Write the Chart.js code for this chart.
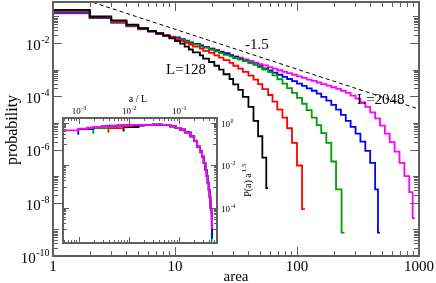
<!DOCTYPE html>
<html>
<head>
<meta charset="utf-8">
<title>Area distribution</title>
<script src="https://cdn.jsdelivr.net/npm/chart.js"></script>
<style>
  body { margin: 0; background: #fff; }
  #wrap { position: relative; width: 436px; height: 283px; }
  #main { position: absolute; left: 0; top: 0; }
  #inset { position: absolute; left: 55px; top: 90px; }
</style>
</head>
<body>
<div id="wrap">
  <canvas id="main" width="436" height="283"></canvas>
  <canvas id="inset" width="215" height="160"></canvas>
</div>
<script>
// system sizes and colours
const sizes = [128, 256, 512, 1024, 2048];
const colors = ['#000000', '#ff0000', '#00a000', '#0000ff', '#ff00ff'];

// left edges of the histogram bins (area)
const areaBins = [1, 2, 3, 4, 5, 6, 7, 8, 9, 10, 11, 12, 13, 14, 16, 17, 19, 21, 23, 25,
  28, 30, 33, 36, 40, 44, 48, 52, 58, 63, 69, 76, 83, 91, 100, 110, 120, 132, 145, 158,
  174, 191, 209, 229, 251, 275, 302, 331, 363, 398, 437, 479, 525, 575, 631, 692, 759, 832];

// probability per bin, one list per L
const probL128 = [0.178, 0.100, 0.0708, 0.0490, 0.0363, 0.0282, 0.0229, 0.0186, 0.0151,
  0.0120, 9.55e-3, 7.41e-3, 5.75e-3, 4.47e-3, 3.47e-3, 2.63e-3, 1.95e-3, 1.41e-3, 1.0e-3,
  6.76e-4, 4.47e-4, 2.82e-4, 1.74e-4, 9.55e-5, 3.98e-5, 1.20e-5, 3.16e-6, 5.01e-7];
const probL256 = [0.166, 0.0955, 0.0661, 0.0468, 0.0355, 0.0282, 0.0234, 0.0195, 0.0166,
  0.0141, 0.0120, 0.0102, 8.71e-3, 7.41e-3, 6.17e-3, 5.13e-3, 4.27e-3, 3.47e-3, 2.82e-3,
  2.29e-3, 1.82e-3, 1.41e-3, 1.10e-3, 8.32e-4, 6.03e-4, 4.27e-4, 2.88e-4, 1.86e-4, 1.12e-4,
  6.31e-5, 3.16e-5, 1.58e-5, 6.31e-6, 1.78e-6, 2.51e-7];
const probL512 = [0.151, 0.0933, 0.0631, 0.0457, 0.0347, 0.0275, 0.0234, 0.0200, 0.0170,
  0.0151, 0.0132, 0.0115, 0.0100, 8.71e-3, 7.59e-3, 6.61e-3, 5.62e-3, 4.90e-3, 4.17e-3,
  3.63e-3, 3.16e-3, 2.75e-3, 2.40e-3, 2.09e-3, 1.78e-3, 1.51e-3, 1.26e-3, 1.02e-3, 8.13e-4,
  6.17e-4, 4.37e-4, 3.02e-4, 2.04e-4, 1.35e-4, 8.71e-5, 5.25e-5, 3.02e-5, 1.58e-5, 8.32e-6,
  4.17e-6, 1.78e-6, 3.55e-7, 3.16e-8];
const probL1024 = [0.141, 0.0891, 0.0603, 0.0437, 0.0339, 0.0275, 0.0234, 0.0200, 0.0170,
  0.0162, 0.0141, 0.0123, 0.0107, 9.33e-3, 8.13e-3, 7.08e-3, 6.17e-3, 5.37e-3, 4.68e-3,
  4.07e-3, 3.47e-3, 3.02e-3, 2.57e-3, 2.19e-3, 1.86e-3, 1.58e-3, 1.35e-3, 1.12e-3, 9.33e-4,
  7.76e-4, 6.46e-4, 5.37e-4, 4.47e-4, 3.72e-4, 3.02e-4, 2.45e-4, 2.00e-4, 1.62e-4, 1.26e-4,
  9.55e-5, 6.92e-5, 4.79e-5, 3.16e-5, 2.00e-5, 1.20e-5, 7.08e-6, 3.98e-6, 2.00e-6, 8.91e-7,
  3.16e-7, 3.16e-8];
const probL2048 = [0.132, 0.0871, 0.0575, 0.0427, 0.0331, 0.0269, 0.0229, 0.0195, 0.0174,
  0.0158, 0.0138, 0.0120, 0.0107, 9.33e-3, 8.13e-3, 7.08e-3, 6.17e-3, 5.50e-3, 4.79e-3,
  4.17e-3, 3.63e-3, 3.16e-3, 2.82e-3, 2.45e-3, 2.14e-3, 1.86e-3, 1.62e-3, 1.45e-3, 1.26e-3,
  1.10e-3, 9.55e-4, 8.32e-4, 7.41e-4, 6.46e-4, 5.62e-4, 4.90e-4, 4.27e-4, 3.80e-4, 3.31e-4,
  2.88e-4, 2.51e-4, 2.19e-4, 1.91e-4, 1.62e-4, 1.35e-4, 1.07e-4, 8.13e-5, 5.89e-5, 3.98e-5,
  2.51e-5, 1.48e-5, 7.94e-6, 3.98e-6, 1.91e-6, 8.32e-7, 3.16e-7, 1.0e-7, 2.51e-8];
const probs = [probL128, probL256, probL512, probL1024, probL2048];

// last (narrow) bin of every curve
const tailStart = [56, 110, 232, 461, 887];
const tailEnd = [58, 116, 245, 479, 925];
const tailP = [3.55e-8, 5.75e-9, 7.59e-10, 7.59e-10, 2.63e-9];

// slope -1.5 guide line
const guideArea = [1, 1000];
const guideP = [1.05, 3.31e-5];

// inset: P(a) a^1.5 against a/L
const insetHeadX = [
  [7.8e-3, 7.8e-3, 0.0156],
  [3.9e-3, 3.9e-3, 7.8e-3, 0.0117],
  [1.95e-3, 1.95e-3, 3.9e-3, 5.9e-3, 7.8e-3, 0.0117],
  [9.77e-4, 9.77e-4, 1.95e-3, 2.93e-3, 3.9e-3, 5.9e-3, 7.8e-3, 0.0117],
  [4.88e-4, 9.77e-4, 1.46e-3, 1.95e-3, 2.93e-3, 3.9e-3, 5.9e-3, 7.8e-3, 0.0117]
];
const insetHeadY = [
  [0.39, 0.63, 0.74],
  [0.35, 0.56, 0.69, 0.76],
  [0.30, 0.56, 0.66, 0.72, 0.76, 0.79],
  [0.275, 0.50, 0.63, 0.69, 0.72, 0.75, 0.77, 0.79],
  [0.44, 0.52, 0.58, 0.63, 0.68, 0.71, 0.74, 0.77, 0.79]
];
const collapseX = [0.02, 0.03, 0.045, 0.067, 0.085, 0.106, 0.13, 0.168, 0.2, 0.228, 0.26,
  0.287, 0.31, 0.334, 0.355, 0.372, 0.39, 0.407];
const collapseY = [0.776, 0.813, 0.794, 0.676, 0.575, 0.468, 0.355, 0.229, 0.138, 0.0759,
  0.0447, 0.0257, 0.0132, 6.17e-3, 3.16e-3, 1.51e-3, 7.08e-4, 3.39e-4];
const insetTailX = [
  [0.42, 0.428],
  [0.415, 0.422],
  [0.42, 0.435, 0.448, 0.452],
  [0.42, 0.435, 0.448, 0.456, 0.46],
  [0.42, 0.435, 0.445, 0.452, 0.456]
];
const insetTailY = [
  [1.0e-4, 1.0e-4],
  [2.5e-4, 2.5e-4],
  [1.78e-4, 6.3e-5, 2.8e-6, 2.8e-6],
  [1.78e-4, 8.1e-5, 1.5e-5, 3.9e-6, 3.9e-6],
  [1.78e-4, 8.1e-5, 3.2e-5, 1.15e-5, 1.15e-5]
];

const SERIF = '"Liberation Serif", "DejaVu Serif", serif';
const AXIS = '#606060';

function pts(xs, ys) {
  return xs.map((x, i) => ({ x: x, y: ys[i] }));
}

// "10" with a raised exponent
function drawPow(ctx, x, y, exp, fs, align) {
  const es = Math.round(fs * 0.65);
  ctx.font = fs + 'px ' + SERIF;
  const w1 = ctx.measureText('10').width;
  ctx.font = es + 'px ' + SERIF;
  const w2 = ctx.measureText(exp).width;
  let x0 = x;
  if (align === 'right') x0 = x - w1 - w2;
  if (align === 'center') x0 = x - (w1 + w2) / 2;
  const base = y + fs * 0.45;
  ctx.textAlign = 'left';
  ctx.textBaseline = 'alphabetic';
  ctx.font = fs + 'px ' + SERIF;
  ctx.fillText('10', x0, base);
  ctx.font = es + 'px ' + SERIF;
  ctx.fillText(exp, x0 + w1 + 0.5, base - fs * 0.45);
}

function tick(ctx, x1, y1, x2, y2) {
  ctx.beginPath();
  ctx.moveTo(x1, y1);
  ctx.lineTo(x2, y2);
  ctx.stroke();
}

// ticks of a log axis: majors at 10^n, minors at k*10^n for the listed decades
function logTickList(min, max, minorDecade) {
  const out = [];
  for (let n = -12; n <= 4; n++) {
    for (let k = 1; k <= 9; k++) {
      const v = k * Math.pow(10, n);
      if (v < min * 0.999 || v > max * 1.001) continue;
      if (k === 1) out.push({ v: v, major: true });
      else if (minorDecade(n)) out.push({ v: v, major: false });
    }
  }
  return out;
}

const mainAxes = {
  id: 'mainAxes',
  afterDatasetsDraw(chart) {
    const { ctx, chartArea: a, scales } = chart;
    const xs = scales.x, ys = scales.y;
    ctx.save();
    ctx.strokeStyle = AXIS;
    ctx.lineWidth = 1;
    logTickList(1, 1000, () => true).forEach(t => {
      const px = Math.round(xs.getPixelForValue(t.v)) + 0.5;
      const len = t.major ? 9 : 5;
      tick(ctx, px, a.bottom, px, a.bottom - len);
      tick(ctx, px, a.top, px, a.top + len);
    });
    logTickList(1e-10, 1, n => n % 2 === 0).forEach(t => {
      const py = Math.round(ys.getPixelForValue(t.v)) + 0.5;
      if (py < a.top || py > a.bottom + 1) return;
      const n = Math.round(Math.log10(t.v));
      const len = t.major ? (n % 2 === 0 ? 9 : 6) : 5;
      tick(ctx, a.left, py, a.left + len, py);
      tick(ctx, a.right, py, a.right - len, py);
    });
    ctx.lineWidth = 2;
    ctx.strokeRect(a.left, a.top, a.right - a.left, a.bottom - a.top);

    ctx.fillStyle = '#000';
    ctx.font = '15px ' + SERIF;
    ctx.textAlign = 'center';
    ctx.textBaseline = 'middle';
    [1, 10, 100, 1000].forEach(v => {
      ctx.fillText(String(v), xs.getPixelForValue(v), a.bottom + 11);
    });
    [-10, -8, -6, -4, -2].forEach(n => {
      drawPow(ctx, a.left - 4, ys.getPixelForValue(Math.pow(10, n)), String(n), 15, 'right');
    });

    ctx.font = '15px ' + SERIF;
    ctx.textAlign = 'center';
    ctx.textBaseline = 'middle';
    ctx.fillText('area', 236, 277);
    ctx.save();
    ctx.translate(13, 130);
    ctx.rotate(-Math.PI / 2);
    ctx.font = '16px ' + SERIF;
    ctx.fillText('probability', 0, 0);
    ctx.restore();

    ctx.textAlign = 'left';
    ctx.font = '15px ' + SERIF;
    ctx.fillText('-1.5', 245, 45);
    ctx.fillText('L=128', 166, 70);
    ctx.fillText('L=2048', 357, 100);
    ctx.restore();
  }
};

const mainSets = sizes.map((L, s) => {
  const data = pts(areaBins.slice(0, probs[s].length), probs[s]);
  data.push({ x: tailStart[s], y: tailP[s] }, { x: tailEnd[s], y: tailP[s] });
  return {
    label: 'L=' + L,
    data: data,
    borderColor: colors[s],
    borderWidth: 1.8,
    stepped: 'before',
    showLine: true,
    pointRadius: 0,
    fill: false,
    order: s
  };
});
mainSets.push({
  label: 'slope -1.5',
  data: pts(guideArea, guideP),
  borderColor: '#000',
  borderWidth: 1,
  borderDash: [4, 3],
  showLine: true,
  pointRadius: 0,
  order: 10
});

new Chart(document.getElementById('main'), {
  type: 'scatter',
  data: { datasets: mainSets },
  options: {
    responsive: false,
    animation: false,
    devicePixelRatio: 1,
    layout: { padding: { left: 53, right: 17, top: 2, bottom: 27 } },
    plugins: { legend: { display: false }, tooltip: { enabled: false } },
    scales: {
      x: { type: 'logarithmic', min: 1, max: 1000, display: false },
      y: { type: 'logarithmic', min: 1e-10, max: 0.35, display: false }
    }
  },
  plugins: [mainAxes]
});

const insetAxes = {
  id: 'insetAxes',
  beforeDatasetsDraw(chart) {
    const { ctx, chartArea: a } = chart;
    ctx.save();
    ctx.fillStyle = '#fff';
    ctx.fillRect(a.left, a.top, a.right - a.left, a.bottom - a.top);
    ctx.restore();
  },
  afterDatasetsDraw(chart) {
    const { ctx, chartArea: a, scales } = chart;
    const xs = scales.x, ys = scales.y;
    ctx.save();
    ctx.strokeStyle = AXIS;
    ctx.lineWidth = 1;
    logTickList(xs.min, xs.max, () => true).forEach(t => {
      const px = Math.round(xs.getPixelForValue(t.v)) + 0.5;
      const len = t.major ? 6 : 3;
      tick(ctx, px, a.bottom, px, a.bottom - len);
      tick(ctx, px, a.top, px, a.top + len);
    });
    logTickList(ys.min, ys.max, n => n % 2 !== 0).forEach(t => {
      const py = Math.round(ys.getPixelForValue(t.v)) + 0.5;
      const n = Math.round(Math.log10(t.v));
      const len = t.major ? (n % 2 === 0 ? 6 : 4) : 3;
      tick(ctx, a.left, py, a.left + len, py);
      tick(ctx, a.right, py, a.right - len, py);
    });
    ctx.lineWidth = 2;
    ctx.strokeRect(a.left, a.top, a.right - a.left, a.bottom - a.top);

    ctx.fillStyle = '#000';
    [-3, -2, -1].forEach(n => {
      drawPow(ctx, xs.getPixelForValue(Math.pow(10, n)), a.top - 8, String(n), 9, 'center');
    });
    [0, -2, -4].forEach(n => {
      drawPow(ctx, a.right + 4, ys.getPixelForValue(Math.pow(10, n)), String(n), 9, 'left');
    });
    ctx.font = '10px ' + SERIF;
    ctx.textAlign = 'center';
    ctx.textBaseline = 'middle';
    ctx.fillText('a / L', 83, 9);

    ctx.save();
    ctx.translate(193, 89);
    ctx.rotate(-Math.PI / 2);
    ctx.font = '10px ' + SERIF;
    ctx.textAlign = 'left';
    ctx.textBaseline = 'middle';
    const w = ctx.measureText('P(a) a').width;
    const wx = -(w + 12) / 2;
    ctx.fillText('P(a) a', wx, 0);
    ctx.font = '7px ' + SERIF;
    ctx.fillText('1.5', wx + w + 1, -4);
    ctx.restore();
    ctx.restore();
  }
};

const insetSets = sizes.map((L, s) => ({
  label: 'L=' + L,
  data: pts(insetHeadX[s].concat(collapseX, insetTailX[s]),
            insetHeadY[s].concat(collapseY, insetTailY[s])),
  borderColor: colors[s],
  borderWidth: 1.8,
  stepped: 'before',
  showLine: true,
  pointRadius: 0,
  fill: false,
  order: 4 - s
}));

new Chart(document.getElementById('inset'), {
  type: 'scatter',
  data: { datasets: insetSets },
  options: {
    responsive: false,
    animation: false,
    devicePixelRatio: 1,
    layout: { padding: { left: 8, right: 53, top: 28, bottom: 7 } },
    plugins: { legend: { display: false }, tooltip: { enabled: false } },
    scales: {
      x: { type: 'logarithmic', min: 4.85e-4, max: 0.57, display: false },
      y: { type: 'logarithmic', min: 2.3e-6, max: 1.66, display: false }
    }
  },
  plugins: [insetAxes]
});
</script>
</body>
</html>
